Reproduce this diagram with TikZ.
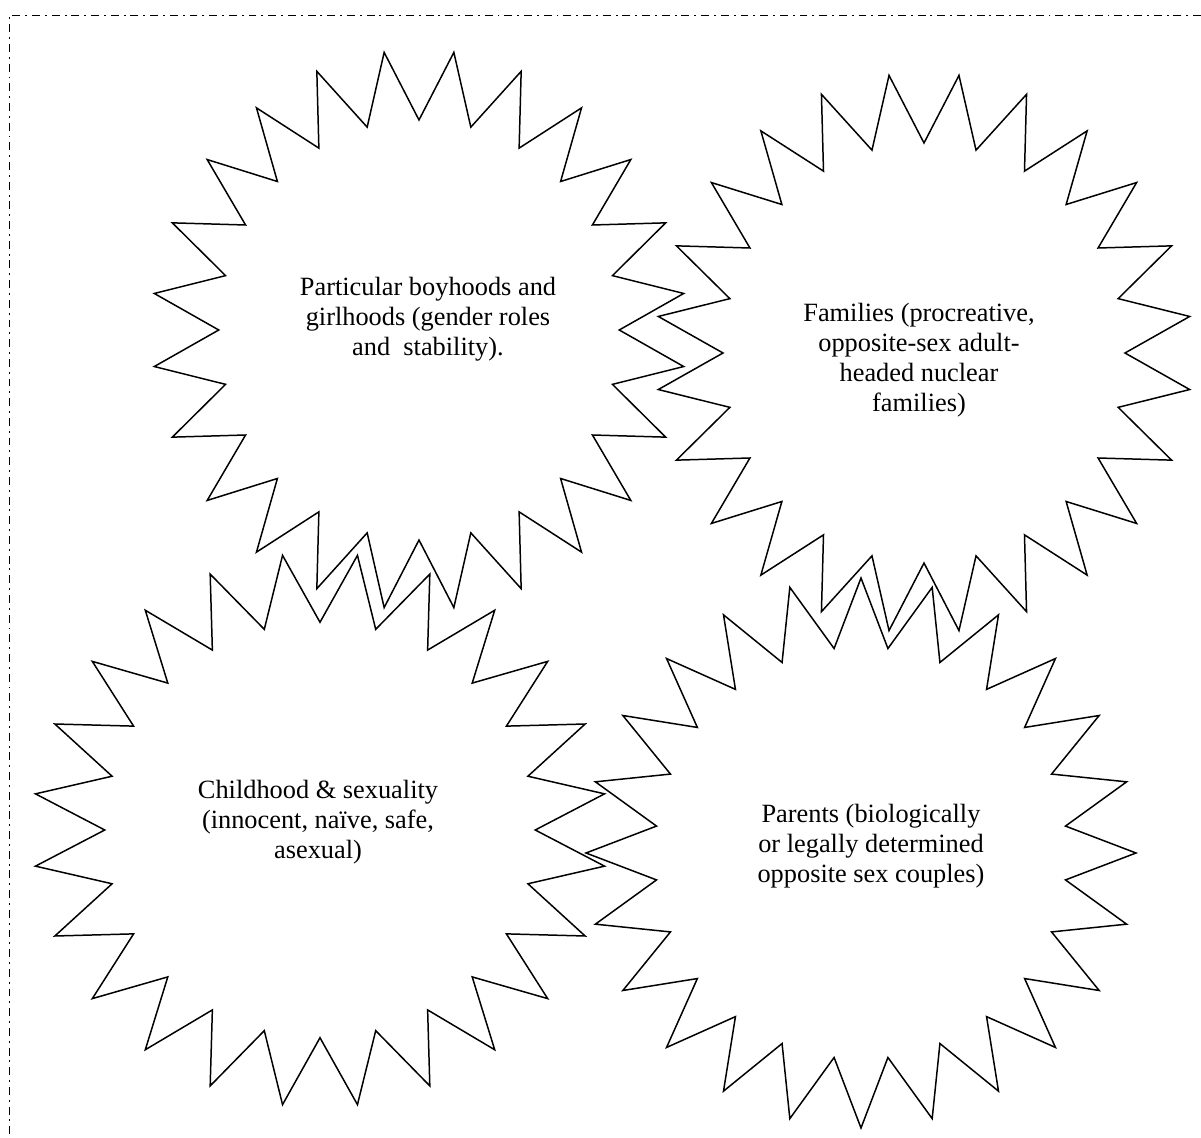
\documentclass[tikz,border=0pt]{standalone}
\usepackage{fontspec}
\setmainfont{Liberation Serif}
\begin{document}
\begin{tikzpicture}[x=0.02cm, y=-0.02cm,
    burst/.style={line width=0.85pt, line join=miter},
    label text/.style={align=center, inner sep=0pt,
        font=\fontsize{15}{17}\selectfont},
    frame line/.style={line width=0.85pt,
        dash pattern=on 4.5pt off 2.8pt on 1.1pt off 2.8pt}]
    \useasboundingbox (0,0) rectangle (1201,1138);

    % Frame (only top and left edges fall inside the page)
    \draw[frame line] (1201,15.7) -- (9.3,15.7) -- (9.3,1138);

    % The four 24-point bursts: centre x/y, radius x/y, turn
    % odd k = outer point, even k = inner notch (ratio 0.75)
    \foreach \cx/\cy/\rx/\ry/\turn in {419/330/267/280/0,
                                       924/353/268/280/0,
                                       320/830/287/277/0,
                                       861/853/275/275/7.5}
        \draw[burst, domain=0:48, samples=49, variable=\k]
            plot ({\cx + \rx*(0.875-0.125*cos(180*\k))*cos(7.5*\k+\turn)},
                  {\cy + \ry*(0.875-0.125*cos(180*\k))*sin(7.5*\k+\turn)}) -- cycle;

    % Labels
    \node[label text] (boyhoods) at (428,319)
        {Particular boyhoods and\\girlhoods (gender roles\\and~ stability).};
    \node[label text] (families) at (919,360)
        {Families (procreative,\\opposite-sex adult-\\headed nuclear\\families)};
    \node[label text] (childhood) at (318,822)
        {Childhood \& sexuality\\(innocent, naïve, safe,\\asexual)};
    \node[label text] (parents) at (871,846)
        {Parents (biologically\\or legally determined\\opposite sex couples)};

\end{tikzpicture}
\end{document}
